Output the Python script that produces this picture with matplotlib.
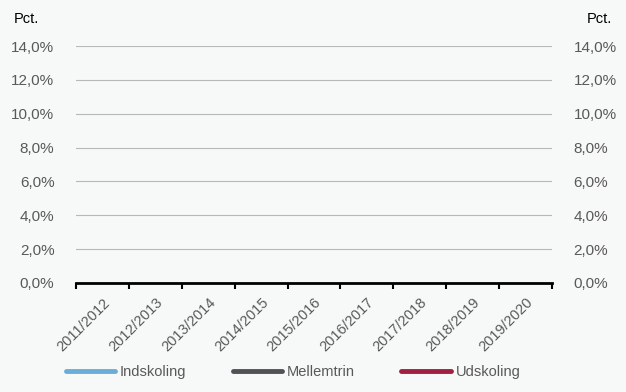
import numpy as np
import matplotlib
matplotlib.use("Agg")
import matplotlib.pyplot as plt
from matplotlib.ticker import FuncFormatter, MultipleLocator

plt.rcParams['font.family'] = ['Liberation Sans', 'DejaVu Sans']

categories = ["2011/2012", "2012/2013", "2013/2014", "2014/2015", "2015/2016",
              "2016/2017", "2017/2018", "2018/2019", "2019/2020"]
# The reference shows no plotted values: every series is empty (missing).
indskoling = [np.nan] * len(categories)
mellemtrin = [np.nan] * len(categories)
udskoling = [np.nan] * len(categories)
series_names = ["Indskoling", "Mellemtrin", "Udskoling"]
series_colors = ["#6aaed8", "#515256", "#a01f42"]

bg = "#f7f8f8"
W, H = 626, 392
fig = plt.figure(figsize=(W / 100, H / 100), dpi=100, facecolor=bg)
ax = fig.add_axes([76 / W, (H - 283) / H, (552 - 76) / W, (283 - 46) / H], facecolor=bg)

x = np.arange(len(categories))
lines = []
for vals, name, col in zip([indskoling, mellemtrin, udskoling], series_names, series_colors):
    ln, = ax.plot(x, vals, color=col, lw=3.5, solid_capstyle='round', label=name)
    lines.append(ln)

ax.set_xlim(-0.5, len(categories) - 0.5)
ax.set_ylim(0, 14)
ax.yaxis.set_major_locator(MultipleLocator(2))
ax.yaxis.set_major_formatter(FuncFormatter(lambda v, p: f"{v:.1f}%".replace('.', ',')))
ax.grid(axis='y', color='#b8b8b8', lw=0.8)
ax.set_axisbelow(True)
for s in ['top', 'left', 'right']:
    ax.spines[s].set_visible(False)
ax.spines['bottom'].set_color('black')
ax.spines['bottom'].set_linewidth(2)
ax.spines['bottom'].set_zorder(5)

ax.tick_params(axis='y', left=False, right=False, labelleft=True, labelright=True,
               labelsize=11, labelcolor='#595959', pad=12)
ax.set_xticks(np.arange(-0.5, len(categories), 1.0))
ax.set_xticklabels([])
ax.set_xticks(x, minor=True)
ax.set_xticklabels(categories, minor=True, rotation=45, ha='right', va='top',
                   rotation_mode='anchor', fontsize=10.5, color='#595959')
ax.tick_params(axis='x', which='major', length=4, width=1.5, color='black', direction='out')
ax.tick_params(axis='x', which='minor', length=0, pad=9)

fig.text(14 / W, 1 - 19 / H, "Pct.", fontsize=10.5, color='black', ha='left', va='center')
fig.text(612 / W, 1 - 19 / H, "Pct.", fontsize=10.5, color='black', ha='right', va='center')

fig.legend(handles=lines, loc='center', bbox_to_anchor=(293 / W, 1 - 372 / H), ncol=3,
           frameon=False, fontsize=10.5, handlelength=3.4, handletextpad=0.3,
           columnspacing=3.2, labelcolor='#595959')

fig.savefig("out.png", dpi=100, facecolor=bg)
